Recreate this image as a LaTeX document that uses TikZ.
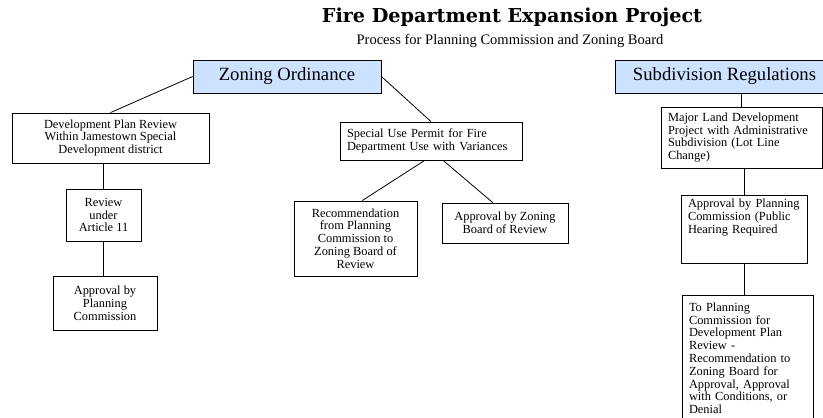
\documentclass[tikz,border=0pt]{standalone}
\usepackage{fontspec}
\setmainfont{Liberation Serif}
\newfontfamily\titlefont{DejaVu Serif}
\usepackage{xcolor}
\usepackage{tikz}
\usetikzlibrary{shapes,positioning}
\definecolor{headblue}{RGB}{204,226,255}
\tikzset{box/.style={rectangle,draw,line width=0.6pt,inner xsep=4pt,inner ysep=2pt,align=center,font=\fontsize{9.3}{9.6}\selectfont}}
\tikzset{lbox/.style={box,inner xsep=0pt,align=left}}
\tikzset{head/.style={rectangle,draw,line width=0.6pt,fill=headblue,minimum height=24.75pt,font=\fontsize{14}{16}\selectfont}}

\begin{document}
\begin{tikzpicture}[x=0.75pt,y=-0.75pt]
    \useasboundingbox (0,0) rectangle (823,417);
    \clip (0,0) rectangle (823,417);

    \node[font=\titlefont\bfseries\fontsize{14.4}{16}\selectfont] (title)at (512,17) {Fire Department Expansion Project};
    \node[font=\fontsize{10.9}{12}\selectfont] (sub title)at (510,40.5) {Process for Planning Commission and Zoning Board};

    \node[head,minimum width=141pt] (zon)at (287,76.5) {Zoning Ordinance};
    \node[head,minimum width=164.25pt] (sub)at (724.5,76.5) {Subdivision Regulations};

    \node[box,minimum width=147.75pt,minimum height=37.5pt] (dev)at (110.5,138) {Development Plan Review\\Within Jamestown Special\\Development district};
    \node[box,minimum width=56.25pt,minimum height=39pt] (rev)at (103.5,215) {Review\\under\\Article 11};
    \node[box,minimum width=78pt,minimum height=40.5pt] (appc)at (105,303) {Approval by\\Planning\\Commission};

    \node[lbox,text width=126pt,minimum width=136.5pt,minimum height=28.5pt] (spec)at (431,141) {Special Use Permit for Fire\\Department Use with Variances};
    \node[box,minimum width=92.25pt,minimum height=56.25pt] (rec)at (355.5,238.5) {Recommendation\\from Planning\\Commission to\\Zoning Board of\\Review};
    \node[box,minimum width=94.5pt,minimum height=30pt] (apzb)at (505,223) {Approval by Zoning\\Board of Review};

    \node[lbox,text width=110.25pt,minimum width=120.75pt,minimum height=45.75pt] (maj)at (741.5,137.5) {Major Land Development\\Project with Administrative\\Subdivision (Lot Line\\Change)};
    \node[lbox,text width=84pt,minimum width=94.5pt,minimum height=51pt] (apph)at (744,229) {Approval by Planning\\Commission (Public\\Hearing Required\\\mbox{}\\\mbox{}};
    \node[lbox,text width=87.75pt,minimum width=98.25pt,minimum height=95pt] (topc)at (747.5,358.3) {To Planning\\Commission for\\Development Plan\\Review -\\Recommendation to\\Zoning Board for\\Approval, Approval\\with Conditions, or\\Denial};

    \draw [line width=0.6pt] (zon.west) to (dev.north);
    \draw [line width=0.6pt] (zon.east) to (spec.north);
    \draw [line width=0.6pt] (dev.south -| rev.north) to (rev.north);
    \draw [line width=0.6pt] (rev.south) to (rev.south |- appc.north);
    \draw [line width=0.6pt] (spec.252) to (rec.80);
    \draw [line width=0.6pt] (spec.302) to (apzb.121);
    \draw [line width=0.6pt] (sub.south -| maj.north) to (maj.north);
    \draw [line width=0.6pt] (maj.south -| apph.north) to (apph.north);
    \draw [line width=0.6pt] (apph.south) to (apph.south |- topc.north);
\end{tikzpicture}
\end{document}
